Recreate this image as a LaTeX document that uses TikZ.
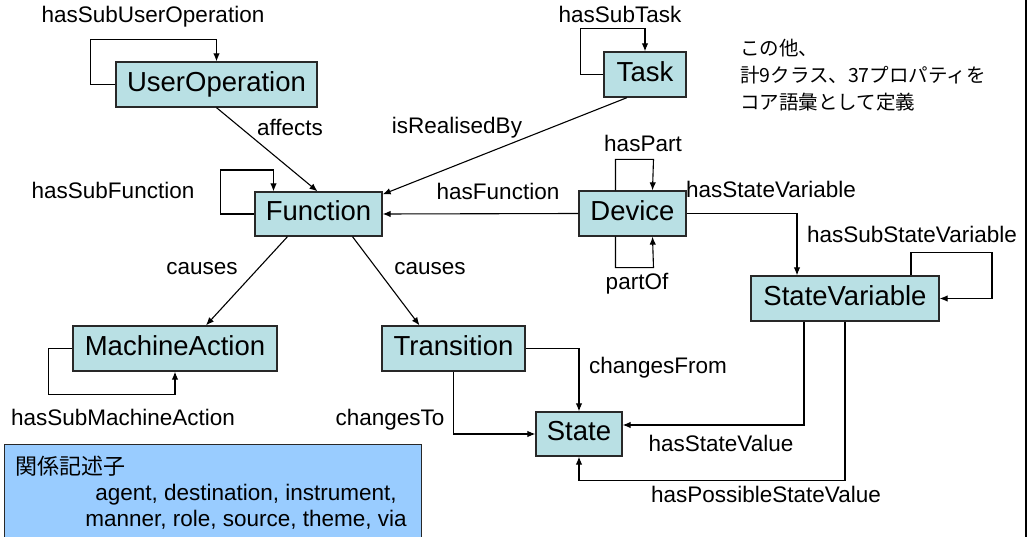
\documentclass[tikz,border=0pt]{standalone}
\usepackage{fontspec}
\setmainfont{Liberation Sans}
\newfontfamily\jp{Noto Sans CJK JP}
\usetikzlibrary{arrows.meta}
\definecolor{nodefill}{RGB}{185,224,228}
\definecolor{relfill}{RGB}{153,204,255}
\definecolor{edgegray}{RGB}{40,40,40}
\tikzset{
  cls/.style={draw=edgegray, line width=1.3pt, fill=nodefill, inner sep=0pt,
    font=\fontsize{27.5}{30}\selectfont, text height=20pt, text depth=6pt},
  lbl/.style={inner sep=0pt, font=\fontsize{22.5}{26}\selectfont, text height=16pt, text depth=5pt},
  arr/.style={draw=black, line width=1.1pt, -{Latex[length=8pt,width=6.5pt]}},
  ln/.style={draw=black, line width=1.1pt}
}
\begin{document}
\begin{tikzpicture}[x=1pt,y=-1pt]
\useasboundingbox (0,0) rectangle (1029,537);
\clip (0,0) rectangle (1029,537);
\fill[white] (0,0) rectangle (1029,537);

% classes
\node[cls, minimum width=201pt, minimum height=45pt] (uo) at (216.5,84.5) {UserOperation};
\node[cls, minimum width=82pt, minimum height=45pt] (tk) at (645,74.5) {Task};
\node[cls, minimum width=127pt, minimum height=44pt] (fn) at (318.5,214) {Function};
\node[cls, minimum width=107pt, minimum height=45pt] (dv) at (632.5,213.5) {Device};
\node[cls, minimum width=188pt, minimum height=45pt] (sv) at (845,298.5) {StateVariable};
\node[cls, minimum width=204pt, minimum height=45pt] (ma) at (175,348.5) {MachineAction};
\node[cls, minimum width=143pt, minimum height=45pt] (tr) at (453.5,348.5) {Transition};
\node[cls, minimum width=86pt, minimum height=44pt] (st) at (579,434) {State};

% connectors
\draw[arr] (uo.west) -| ++(-25,-45) -| (uo.north);
\draw[arr] (tk.west) -| ++(-23,-46) -| (tk.north);
\draw[arr] (fn.west) -| ++(-34,-44) -| ([xshift=-45pt]fn.north);
\draw[arr] (uo.south) -- ([xshift=-1pt]fn.north);
\draw[arr] ([xshift=-18pt]tk.south) -- ([yshift=-3pt]fn.north east);
\draw[arr] (dv.west) -- (fn.east);
\draw[arr] ([xshift=-17pt]dv.north) |- ++(38,-31) -- ([xshift=20pt]dv.north);
\draw[arr] ([xshift=-17pt]dv.south) |- ++(38,31) -- ([xshift=20pt]dv.south);
\draw[arr] (dv.east) -| ([xshift=-48pt]sv.north);
\draw[arr] ([xshift=66pt]sv.north) |- ++(81,-23) |- (sv.east);
\draw[arr] ([xshift=-31pt]fn.south) -- ([xshift=31pt]ma.north);
\draw[arr] ([xshift=34pt]fn.south) -- ([xshift=-34pt]tr.north);
\draw[arr] (ma.west) -| ++(-24,46) -| (ma.south);
\draw[arr] (tr.east) -| (st.north);
\draw[arr] (tr.south) |- (st.west);
\draw[arr] ([xshift=-41pt]sv.south) |- ([yshift=9pt]st.east);
\draw[arr] (sv.south) -- ++(0,159) -| (st.south);

% labels
\node[lbl] (l1) at (153,17) {hasSubUserOperation};
\node[lbl] (l2) at (290,130) {affects};
\node[lbl] (l3) at (620,17) {hasSubTask};
\node[lbl] (l4) at (457,128) {isRealisedBy};
\node[lbl] (l5) at (113,193) {hasSubFunction};
\node[lbl] (l6) at (498,194) {hasFunction};
\node[lbl] (l7) at (643,146) {hasPart};
\node[lbl, anchor=west] (l8) at (686,192) {hasStateVariable};
\node[lbl] (l9) at (912,237) {hasSubStateVariable};
\node[lbl] (l10) at (637,284) {partOf};
\node[lbl] (l11) at (202,269) {causes};
\node[lbl] (l12) at (430,269) {causes};
\node[lbl] (l13) at (658,368) {changesFrom};
\node[lbl] (l14) at (390,420) {changesTo};
\node[lbl] (l15) at (123,420) {hasSubMachineAction};
\node[lbl] (l16) at (721,446) {hasStateValue};
\node[lbl] (l17) at (766,497) {hasPossibleStateValue};

% note
\node[anchor=west, align=left, inner sep=0pt, font=\jp\fontsize{19.5}{27}\selectfont] (note) at (740,75)
  {この他、\\計9クラス、37プロパティを\\コア語彙として定義};

% relation descriptor box
\node[draw=edgegray, line width=1.3pt, fill=relfill, anchor=north west, minimum width=417pt, minimum height=110pt, inner sep=0pt] (rel) at (4,444) {};
\node[anchor=west, inner sep=0pt, font=\jp\fontsize{22}{26}\selectfont] (reltitle) at (15,466) {関係記述子};
\node[align=center, inner sep=0pt, font=\fontsize{22.5}{26}\selectfont] (reltext) at (246,507)
  {agent, destination, instrument,\\manner, role, source, theme, via};

% right border
\draw[line width=1.5pt, black] (1026,0) coordinate (bt) -- (1026,537) coordinate (bb);
\end{tikzpicture}
\end{document}
